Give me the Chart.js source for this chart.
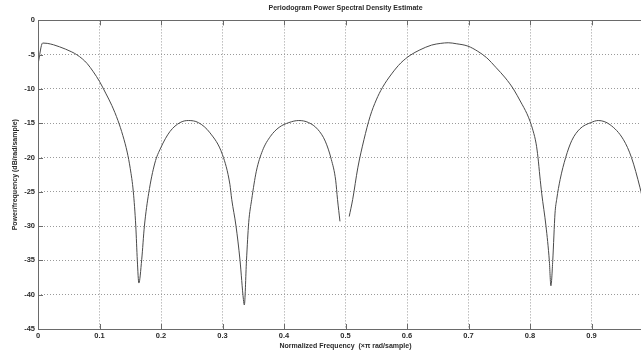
<!DOCTYPE html>
<html>
<head>
<meta charset="utf-8">
<script src="https://cdn.jsdelivr.net/npm/chart.js@4.4.1/dist/chart.umd.min.js"></script>
<style>
  html, body { margin: 0; padding: 0; background: #fff; overflow: hidden; }
  #wrap { width: 690px; height: 354px; position: relative; }
</style>
</head>
<body>
<div id="wrap"><canvas id="myChart"></canvas></div>
<script>
// normalized frequency (x pi rad/sample) and PSD (dB/rad/sample)
const freq = [
  0.000, 0.0075, 0.015, 0.025, 0.035, 0.045, 0.055, 0.063, 0.072, 0.080,
  0.090, 0.100, 0.110, 0.120, 0.130, 0.138, 0.145, 0.150, 0.155, 0.159,
  0.1615, 0.164, 0.1686, 0.173, 0.180, 0.190, 0.1995, 0.2146, 0.231, 0.2445,
  0.2607, 0.2797, 0.300, 0.312, 0.315, 0.322, 0.3285, 0.334, 0.3355, 0.339,
  0.3426, 0.3475, 0.355, 0.365, 0.378, 0.392, 0.408, 0.424, 0.440, 0.455,
  0.467, 0.477, 0.484, 0.487, 0.491, 0.498,
  0.506, 0.5117, 0.520, 0.530, 0.540, 0.550, 0.560, 0.575, 0.590, 0.605,
  0.621, 0.640, 0.655, 0.667, 0.680, 0.699, 0.715, 0.7296, 0.745, 0.760,
  0.773, 0.785, 0.795, 0.800, 0.805, 0.810, 0.813, 0.816, 0.819, 0.826,
  0.8314, 0.834, 0.837, 0.8407, 0.8434, 0.849, 0.858, 0.868, 0.8813, 0.899,
  0.911, 0.930, 0.952, 0.965, 0.9789, 0.985
];
const psd = [
  -6.4, -3.3, -3.35, -3.55, -3.85, -4.2, -4.6, -5.0, -5.6, -6.3,
  -7.5, -8.9, -10.6, -12.4, -14.6, -16.8, -19.2, -21.6, -25.0, -30.0,
  -35.0, -38.3, -34.9, -30.0, -25.2, -20.8, -18.6, -16.2, -14.9, -14.6,
  -14.9, -16.4, -19.6, -23.9, -26.1, -30.0, -35.0, -40.7, -41.5, -35.0,
  -29.5, -26.1, -22.0, -19.0, -16.9, -15.6, -14.9, -14.6, -14.9, -15.9,
  -17.6, -20.3, -23.3, -26.1, -29.3, null,
  -28.6, -26.1, -21.5, -17.4, -14.0, -11.6, -9.8, -7.8, -6.2, -5.1,
  -4.3, -3.6, -3.35, -3.26, -3.4, -3.75, -4.5, -5.45, -6.9, -8.4,
  -10.0, -11.9, -13.6, -14.7, -16.1, -18.0, -20.0, -22.7, -25.2, -30.0,
  -35.0, -38.7, -35.0, -28.1, -26.1, -23.2, -20.0, -17.5, -15.8, -14.9,
  -14.6, -15.2, -17.4, -20.0, -24.4, -26.8
];

const xTicks = [0, 0.1, 0.2, 0.3, 0.4, 0.5, 0.6, 0.7, 0.8, 0.9, 1];
const yTicks = [0, -5, -10, -15, -20, -25, -30, -35, -40, -45];

const titleText = 'Periodogram Power Spectral Density Estimate';
const xLabel = 'Normalized Frequency  (\u00d7\u03c0 rad/sample)';
const yLabel = 'Power/frequency (dB/rad/sample)';

const axisColor = '#6a6a6a';
const textColor = '#2a2a2a';
const tickFont = { family: 'Liberation Sans, Arial, sans-serif', size: 7.5, weight: 'bold' };
const labelFont = { family: 'Liberation Sans, Arial, sans-serif', size: 7, weight: 'bold' };

// matlab-like box with inward tick marks
const boxPlugin = {
  id: 'box',
  afterDatasetsDraw(chart) {
    const { ctx, chartArea: a, scales } = chart;
    ctx.save();
    ctx.strokeStyle = axisColor;
    ctx.lineWidth = 1;
    ctx.beginPath();
    ctx.rect(Math.round(a.left) + 0.5, Math.round(a.top) + 0.5,
      Math.round(a.right - a.left), Math.round(a.bottom - a.top));
    xTicks.forEach((v) => {
      const px = Math.round(scales.x.getPixelForValue(v)) + 0.5;
      ctx.moveTo(px, a.bottom); ctx.lineTo(px, a.bottom - 5);
      ctx.moveTo(px, a.top); ctx.lineTo(px, a.top + 5);
    });
    yTicks.forEach((v) => {
      const py = Math.round(scales.y.getPixelForValue(v)) + 0.5;
      ctx.moveTo(a.left, py); ctx.lineTo(a.left + 5, py);
      ctx.moveTo(a.right, py); ctx.lineTo(a.right - 5, py);
    });
    ctx.stroke();
    ctx.restore();
  }
};

const main = () => {
  const points = freq.map((f, i) => ({ x: f, y: psd[i] }));

  const config = {
    type: 'line',
    data: {
      datasets: [{
        label: 'PSD',
        data: points,
        borderColor: '#4a4a4a',
        borderWidth: 1,
        pointRadius: 0,
        fill: false,
        spanGaps: false,
        cubicInterpolationMode: 'monotone'
      }]
    },
    options: {
      responsive: true,
      maintainAspectRatio: false,
      devicePixelRatio: 1,
      animation: false,
      layout: { padding: { left: 0, right: 37, top: 0, bottom: 0 } },
      plugins: {
        legend: { display: false },
        tooltip: { enabled: false },
        title: {
          display: true,
          fullSize: false,
          text: titleText,
          color: textColor,
          font: labelFont,
          padding: { top: 4, bottom: 8 }
        }
      },
      scales: {
        x: {
          type: 'linear',
          min: 0,
          max: 1,
          afterBuildTicks: (s) => { s.ticks = xTicks.map((v) => ({ value: v })); },
          afterFit: (s) => { s.height = 25; },
          ticks: {
            color: textColor,
            font: tickFont,
            padding: 2,
            maxRotation: 0,
            callback: (v) => String(v)
          },
          grid: { color: '#9a9a9a', lineWidth: 1, drawTicks: false },
          border: { display: false, dash: [1, 2] },
          title: { display: true, text: xLabel, color: textColor, font: labelFont, padding: { top: 0, bottom: 3.5 } }
        },
        y: {
          type: 'linear',
          min: -45,
          max: 0,
          afterBuildTicks: (s) => { s.ticks = yTicks.map((v) => ({ value: v })); },
          afterFit: (s) => { s.width = 38; },
          ticks: {
            color: textColor,
            font: tickFont,
            padding: 3,
            callback: (v) => String(v)
          },
          grid: { color: '#9a9a9a', lineWidth: 1, drawTicks: false },
          border: { display: false, dash: [1, 2] },
          title: { display: true, text: yLabel, color: textColor, font: labelFont, padding: { top: 11, bottom: 0 } }
        }
      }
    },
    plugins: [boxPlugin]
  };

  new Chart(document.getElementById('myChart'), config);
};

window.onload = () => main();
</script>
</body>
</html>
